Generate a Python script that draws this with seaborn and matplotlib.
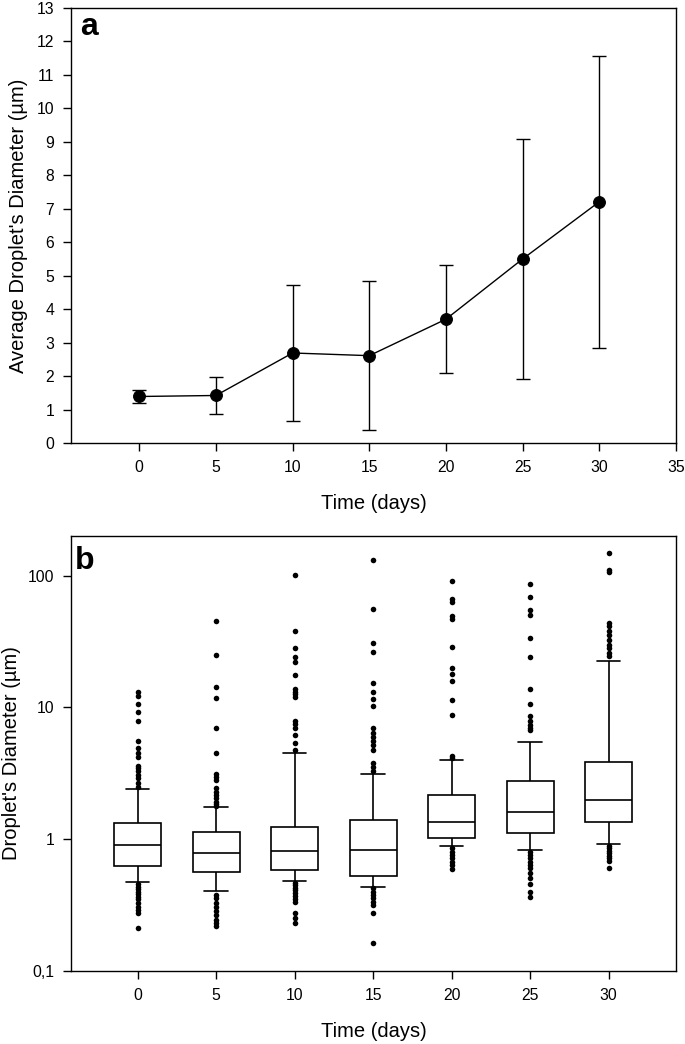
import numpy as np
import pandas as pd
import seaborn as sns
import matplotlib.pyplot as plt
from matplotlib.ticker import FixedLocator, FixedFormatter, NullLocator, MultipleLocator

# panel a: average droplet diameter (mean +/- sd) over storage time
days = [0, 5, 10, 15, 20, 25, 30]
mean_diam = [1.39, 1.42, 2.69, 2.61, 3.70, 5.50, 7.21]
sd_diam = [0.20, 0.55, 2.02, 2.22, 1.62, 3.60, 4.37]

# panel b: box summaries per day
day_labels = ['0', '5', '10', '15', '20', '25', '30']
whis_lo = [0.471, 0.408, 0.483, 0.435, 0.885, 0.830, 0.922]
q1 = [0.627, 0.568, 0.585, 0.524, 1.018, 1.124, 1.346]
median = [0.911, 0.783, 0.820, 0.835, 1.354, 1.60, 1.98]
q3 = [1.32, 1.137, 1.248, 1.394, 2.15, 2.79, 3.87]
whis_hi = [2.40, 1.75, 4.50, 3.13, 4.01, 5.45, 22.4]

# outliers per day
out_0 = [13.1, 12.3, 10.6, 9.17, 7.83, 5.58, 4.91, 4.50, 4.22, 3.61, 3.46, 3.32, 3.08,
         2.91, 2.66, 2.51,
         0.458, 0.437, 0.417, 0.401, 0.384, 0.367, 0.350, 0.327, 0.308, 0.291, 0.274, 0.211]
out_5 = [45.5, 24.8, 14.4, 11.7, 7.01, 4.50, 3.13, 2.96, 2.82, 2.43, 2.30, 2.16, 2.04,
         1.93, 1.85, 1.79,
         0.378, 0.356, 0.327, 0.308, 0.287, 0.266, 0.244, 0.230, 0.220]
out_10 = [100.6, 38.2, 28.5, 24.0, 22.1, 17.6, 13.7, 13.2, 12.6, 12.0, 7.96, 7.51, 6.97,
          6.20, 5.36, 4.77,
          0.469, 0.450, 0.430, 0.412, 0.394, 0.371, 0.350, 0.331, 0.277, 0.251, 0.230]
out_15 = [132, 55.5, 30.8, 26.5, 15.3, 13.0, 11.6, 10.2, 6.93, 6.38, 5.96, 5.52, 5.20,
          4.77, 3.82, 3.56, 3.32,
          0.425, 0.401, 0.378, 0.356, 0.336, 0.317, 0.274, 0.162]
out_20 = [91.6, 66.5, 62.7, 49.7, 46.9, 28.7, 20.0, 18.0, 16.0, 11.3, 8.74, 4.30, 4.15,
          0.855, 0.806, 0.760, 0.717, 0.677, 0.638, 0.592]
out_25 = [86.4, 68.5, 55.2, 50.0, 33.6, 24.3, 13.8, 10.6, 8.54, 7.92, 7.38, 6.97, 6.69,
          0.806, 0.760, 0.717, 0.677, 0.638, 0.602, 0.558, 0.506, 0.455, 0.401, 0.367]
out_30 = [149, 110, 107, 43.7, 41.2, 37.8, 35.6, 32.6, 29.9, 28.2, 25.9, 24.4,
          0.890, 0.855, 0.820, 0.783, 0.747, 0.717, 0.689, 0.602]
outliers = [out_0, out_5, out_10, out_15, out_20, out_25, out_30]

# five-number tables -> long frame (whis=inf makes whiskers reach min/max)
box_rows = []
for i, lab in enumerate(day_labels):
    for v in (whis_lo[i], q1[i], median[i], q3[i], whis_hi[i]):
        box_rows.append({'day': lab, 'diam': v})
df_box = pd.DataFrame(box_rows)

out_rows = []
for lab, vals in zip(day_labels, outliers):
    for v in vals:
        out_rows.append({'day': lab, 'diam': v})
df_out = pd.DataFrame(out_rows)

sns.set_style('ticks')
plt.rcParams['font.family'] = ['Liberation Sans', 'DejaVu Sans']
plt.rcParams['axes.edgecolor'] = 'black'
plt.rcParams['axes.linewidth'] = 1.0
plt.rcParams['xtick.color'] = 'black'
plt.rcParams['ytick.color'] = 'black'
plt.rcParams['text.color'] = 'black'
plt.rcParams['axes.labelcolor'] = 'black'

W, H = 685, 1044
fig = plt.figure(figsize=(W / 100, H / 100), dpi=100)
ax1 = fig.add_axes([71 / W, 1 - 443 / H, 605 / W, 435 / H])
ax2 = fig.add_axes([71 / W, 1 - 971 / H, 605 / W, 435 / H])

# ---- panel a
sns.lineplot(x=days, y=mean_diam, color='black', linewidth=1.0, marker='o',
             markersize=8.5, markeredgecolor='black', ax=ax1, zorder=3)
ax1.errorbar(days, mean_diam, yerr=sd_diam, fmt='none', ecolor='black',
             elinewidth=1.0, capsize=5, capthick=1.0, zorder=2)
ax1.set_xlim(-4.45, 35)
ax1.set_ylim(0, 13)
ax1.xaxis.set_major_locator(MultipleLocator(5))
ax1.yaxis.set_major_locator(MultipleLocator(1))
ax1.set_xlabel('Time (days)', fontsize=14.5, labelpad=14)
ax1.set_ylabel("Average Droplet's Diameter (\u00b5m)", fontsize=14.5)
ax1.yaxis.set_label_coords(-71 / 605 + 28 / 605, 0.5)
ax1.text(0.015, 0.938, 'a', transform=ax1.transAxes, fontsize=23,
         fontweight='bold', va='baseline', ha='left')

# ---- panel b
sns.boxplot(data=df_box, x='day', y='diam', order=day_labels, whis=np.inf,
            width=0.6, color='white', linecolor='black', linewidth=1.2,
            showfliers=False, log_scale=True, ax=ax2)
sns.stripplot(data=df_out, x='day', y='diam', order=day_labels, jitter=False,
              color='black', size=4, linewidth=0, log_scale=True, ax=ax2, zorder=4)
ax2.set_xlim(-0.85, 6.86)
ax2.set_ylim(0.1, 200)
ax2.yaxis.set_major_locator(FixedLocator([0.1, 1, 10, 100]))
ax2.yaxis.set_major_formatter(FixedFormatter(['0,1', '1', '10', '100']))
ax2.yaxis.set_minor_locator(NullLocator())
ax2.set_xlabel('Time (days)', fontsize=14.5, labelpad=14)
ax2.set_ylabel("Droplet's Diameter (\u00b5m)", fontsize=14.5)
ax2.yaxis.set_label_coords(-71 / 605 + 21 / 605, 0.5)
ax2.text(0.007, 0.923, 'b', transform=ax2.transAxes, fontsize=23,
         fontweight='bold', va='baseline', ha='left')

for ax in (ax1, ax2):
    for s in ax.spines.values():
        s.set_visible(True)
        s.set_color('black')
    ax.tick_params(direction='out', length=6, width=1, labelsize=11.3, pad=6)

fig.savefig('out.png', dpi=100, facecolor='white')
